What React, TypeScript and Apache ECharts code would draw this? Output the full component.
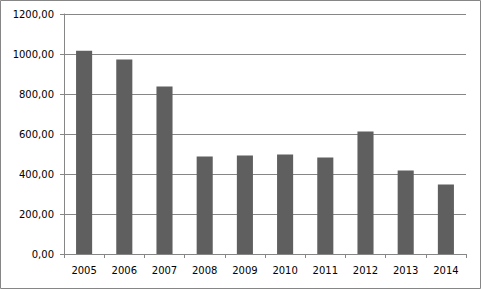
import React, { useEffect, useRef } from "react";
import * as echarts from "echarts";

const years = ["2005", "2006", "2007", "2008", "2009", "2010", "2011", "2012", "2013", "2014"];
const values = [1016, 972, 837, 487, 492, 497, 482, 612, 417, 347];

export default function App() {
  const ref = useRef<HTMLDivElement>(null);
  useEffect(() => {
    if (!ref.current) return;
    const chart = echarts.init(ref.current, undefined, { renderer: "svg" });
    const font = "DejaVu Sans";
    chart.setOption({
      animation: false,
      backgroundColor: "#ffffff",
      grid: { left: 64, top: 14, width: 402, height: 240, containLabel: false },
      graphic: [
        {
          type: "rect",
          shape: { x: 0.5, y: 0.5, width: 480, height: 288 },
          style: { fill: "none", stroke: "#868686", lineWidth: 1 },
          silent: true,
          z: 100,
        },
      ],
      xAxis: {
        type: "category",
        data: years,
        axisLine: { show: true, lineStyle: { color: "#868686", width: 1 } },
        axisTick: { show: true, length: 4, lineStyle: { color: "#868686" } },
        axisLabel: { color: "#000000", fontFamily: font, fontSize: 10, margin: 11 },
        splitLine: { show: false },
      },
      yAxis: {
        type: "value",
        min: 0,
        max: 1200,
        interval: 200,
        axisLine: { show: true, lineStyle: { color: "#868686", width: 1 } },
        axisTick: { show: true, length: 4, lineStyle: { color: "#868686" } },
        axisLabel: {
          color: "#000000",
          fontFamily: font,
          fontSize: 10,
          margin: 10,
          formatter: (v: number) => v.toFixed(2).replace(".", ","),
        },
        splitLine: { show: true, lineStyle: { color: "#868686", width: 1 } },
      },
      series: [
        {
          type: "bar",
          data: values,
          barCategoryGap: "60%",
          itemStyle: { color: "#5f5f5f" },
        },
      ],
    });
    return () => chart.dispose();
  }, []);
  return (
    <div
      ref={ref}
      style={{ position: "fixed", left: 0, top: 0, width: 481, height: 289 }}
    />
  );
}
